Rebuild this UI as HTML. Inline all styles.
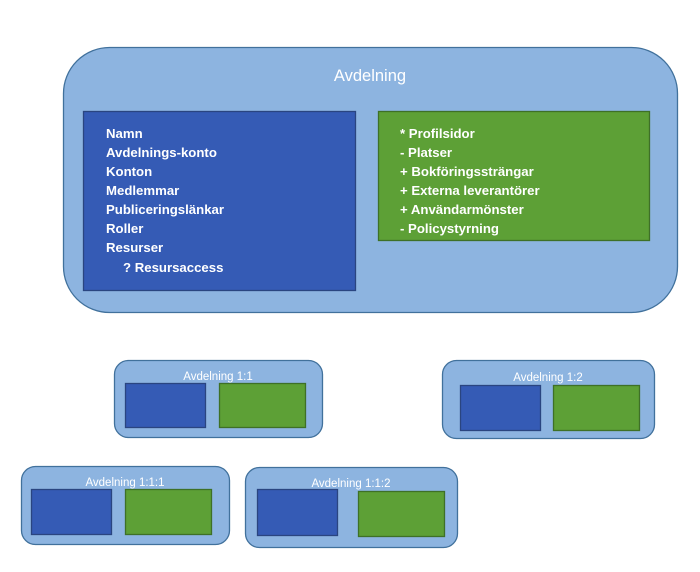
<!DOCTYPE html>
<html><head><meta charset="utf-8"><style>
html,body{margin:0;padding:0;background:#fff;width:700px;height:572px;overflow:hidden}
svg text{font-family:"Liberation Sans",sans-serif}
</style></head><body>
<svg width="700" height="572" xmlns="http://www.w3.org/2000/svg">
<g stroke-width="1.3">
<rect x="63.5" y="47.5" width="614" height="265" rx="46" fill="#8db4e0" stroke="#41719c"/>
<rect x="83.5" y="111.5" width="272" height="179" fill="#355bb5" stroke="#2a4580"/>
<rect x="378.5" y="111.5" width="271" height="129" fill="#5da036" stroke="#3e7027"/>

<rect x="114.5" y="360.5" width="208" height="77" rx="14" fill="#8db4e0" stroke="#41719c"/>
<rect x="125.5" y="383.5" width="80" height="44" fill="#355bb5" stroke="#2a4580"/>
<rect x="219.5" y="383.5" width="86" height="44" fill="#5da036" stroke="#3e7027"/>

<rect x="442.5" y="360.5" width="212" height="78" rx="14" fill="#8db4e0" stroke="#41719c"/>
<rect x="460.5" y="385.5" width="80" height="45" fill="#355bb5" stroke="#2a4580"/>
<rect x="553.5" y="385.5" width="86" height="45" fill="#5da036" stroke="#3e7027"/>

<rect x="21.5" y="466.5" width="208" height="78" rx="14" fill="#8db4e0" stroke="#41719c"/>
<rect x="31.5" y="489.5" width="80" height="45" fill="#355bb5" stroke="#2a4580"/>
<rect x="125.5" y="489.5" width="86" height="45" fill="#5da036" stroke="#3e7027"/>

<rect x="245.5" y="467.5" width="212" height="80" rx="14" fill="#8db4e0" stroke="#41719c"/>
<rect x="257.5" y="489.5" width="80" height="46" fill="#355bb5" stroke="#2a4580"/>
<rect x="358.5" y="491.5" width="86" height="45" fill="#5da036" stroke="#3e7027"/>
</g>
<g fill="#fff">
<text x="370" y="81" font-size="16.5" text-anchor="middle">Avdelning</text>
<text x="218" y="380" font-size="11.5" text-anchor="middle">Avdelning 1:1</text>
<text x="548" y="381" font-size="11.5" text-anchor="middle">Avdelning 1:2</text>
<text x="125" y="486" font-size="11.5" text-anchor="middle">Avdelning 1:1:1</text>
<text x="351" y="487" font-size="11.5" text-anchor="middle">Avdelning 1:1:2</text>
<g font-size="13.2" font-weight="bold">
<text x="106" y="138">Namn</text>
<text x="106" y="157">Avdelnings-konto</text>
<text x="106" y="176">Konton</text>
<text x="106" y="195">Medlemmar</text>
<text x="106" y="214">Publiceringslänkar</text>
<text x="106" y="233">Roller</text>
<text x="106" y="252">Resurser</text>
<text x="123" y="272">? Resursaccess</text>
<text x="400" y="138">* Profilsidor</text>
<text x="400" y="157">- Platser</text>
<text x="400" y="176">+ Bokföringssträngar</text>
<text x="400" y="195">+ Externa leverantörer</text>
<text x="400" y="214">+ Användarmönster</text>
<text x="400" y="233">- Policystyrning</text>
</g>
</g>
</svg>
</body></html>
